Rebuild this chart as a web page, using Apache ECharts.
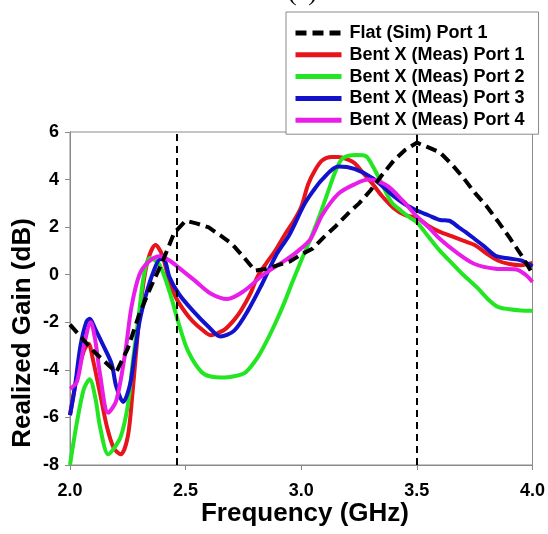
<!DOCTYPE html>
<html>
<head>
<meta charset="utf-8">
<script src="https://cdn.jsdelivr.net/npm/echarts@6/dist/echarts.min.js"></script>
<style>
html,body{margin:0;padding:0;background:#fff;}
#chart{width:548px;height:534px;}
</style>
</head>
<body>
<div id="chart"></div>
<script>
// ---- Data (frequency in GHz, realized gain in dB) ----
const seriesNames = ['Flat (Sim) Port 1','Bent X (Meas) Port 1','Bent X (Meas) Port 2','Bent X (Meas) Port 3','Bent X (Meas) Port 4'];
const xTicks = [2.0, 2.5, 3.0, 3.5, 4.0];
const yTicks = [-8, -6, -4, -2, 0, 2, 4, 6];
const markerFreqs = [2.46, 3.5];

const simFreq = [2.00,2.05,2.10,2.15,2.20,2.25,2.30,2.35,2.40,2.45,2.50,2.55,2.60,2.65,2.70,2.75,2.80,2.85,2.90,2.95,3.00,3.05,3.10,3.15,3.20,3.25,3.30,3.35,3.40,3.45,3.50,3.55,3.60,3.65,3.70,3.75,3.80,3.85,3.90,3.95,4.00];
const simGain = [-2.1,-2.65,-3.2,-3.65,-4.1,-3.1,-1.65,-0.5,0.55,1.75,2.27,2.15,1.99,1.65,1.3,0.75,0.17,0.25,0.4,0.55,0.85,1.1,1.6,2.05,2.55,3.0,3.55,4.2,4.8,5.25,5.55,5.35,5.14,4.65,4.09,3.45,2.9,2.25,1.57,0.85,0.05];

const p1Freq = [2.00,2.03,2.06,2.08,2.10,2.13,2.16,2.19,2.22,2.25,2.27,2.29,2.31,2.335,2.37,2.40,2.43,2.46,2.50,2.53,2.57,2.61,2.64,2.67,2.71,2.74,2.78,2.81,2.85,2.89,2.93,2.97,3.00,3.03,3.06,3.09,3.13,3.16,3.20,3.23,3.27,3.31,3.35,3.40,3.45,3.50,3.55,3.60,3.65,3.70,3.75,3.80,3.85,3.90,3.95,4.00];
const p1Gain = [-5.9,-4.3,-3.2,-2.9,-3.6,-5.0,-6.4,-7.3,-7.55,-6.8,-5.0,-2.8,-0.9,0.55,1.25,0.8,-0.3,-1.0,-1.6,-1.95,-2.3,-2.55,-2.45,-2.3,-1.9,-1.5,-0.8,-0.1,0.5,1.05,1.7,2.3,2.85,3.8,4.4,4.8,4.95,4.95,4.85,4.7,4.25,3.8,3.3,2.8,2.5,2.4,2.05,1.8,1.62,1.43,1.25,0.9,0.6,0.45,0.4,0.5];

const p2Freq = [2.00,2.03,2.06,2.085,2.11,2.13,2.165,2.19,2.22,2.25,2.27,2.30,2.32,2.345,2.385,2.43,2.47,2.51,2.57,2.62,2.67,2.72,2.76,2.81,2.85,2.89,2.93,2.96,3.00,3.04,3.08,3.12,3.15,3.18,3.24,3.28,3.31,3.35,3.39,3.43,3.47,3.50,3.55,3.60,3.65,3.70,3.76,3.81,3.85,3.90,3.95,4.00];
const p2Gain = [-8.0,-6.2,-4.8,-4.4,-5.2,-6.4,-7.55,-7.3,-6.8,-5.5,-3.8,-1.5,0.0,0.7,0.45,-0.7,-2.05,-3.2,-4.1,-4.3,-4.32,-4.25,-4.1,-3.5,-2.8,-2.0,-1.1,-0.35,0.6,1.5,2.5,3.6,4.4,4.9,5.03,4.98,4.55,3.8,3.05,2.7,2.4,2.2,1.6,1.0,0.5,0.0,-0.53,-1.05,-1.35,-1.45,-1.5,-1.52];

const p3Freq = [2.00,2.02,2.045,2.07,2.085,2.11,2.14,2.18,2.20,2.23,2.26,2.28,2.30,2.33,2.36,2.39,2.41,2.43,2.47,2.53,2.60,2.65,2.71,2.77,2.83,2.89,2.95,3.01,3.05,3.09,3.16,3.23,3.31,3.40,3.45,3.50,3.55,3.60,3.64,3.68,3.71,3.75,3.79,3.84,3.90,3.95,4.00];
const p3Gain = [-5.9,-4.8,-3.0,-2.0,-1.85,-2.3,-2.9,-3.75,-4.7,-5.35,-4.6,-3.3,-2.0,-0.8,0.1,0.65,0.6,-0.1,-0.8,-1.5,-2.2,-2.6,-2.35,-1.5,-0.4,0.8,1.7,2.9,3.5,4.0,4.55,4.45,4.05,3.3,2.95,2.7,2.5,2.3,2.27,2.0,1.8,1.5,1.2,0.8,0.68,0.6,0.35];

const p4Freq = [2.00,2.03,2.06,2.09,2.11,2.13,2.165,2.20,2.24,2.265,2.30,2.34,2.39,2.43,2.47,2.54,2.61,2.68,2.75,2.84,2.93,2.98,3.04,3.09,3.16,3.23,3.29,3.37,3.44,3.50,3.55,3.60,3.67,3.75,3.84,3.93,3.97,4.00];
const p4Gain = [-4.8,-4.5,-3.0,-2.0,-2.8,-4.2,-5.8,-5.3,-3.2,-1.4,0.0,0.55,0.78,0.6,0.3,-0.25,-0.8,-1.02,-0.7,0.03,0.6,0.95,1.5,2.5,3.4,3.8,4.0,3.75,3.1,2.45,2.0,1.5,0.95,0.45,0.25,0.22,0.0,-0.3];

const colors = ['#000000','#e8141c','#22e622','#1212cc','#e81ee8'];

function zip(a,b){return a.map((v,i)=>[v,b[i]]);}
const allFreq = [simFreq,p1Freq,p2Freq,p3Freq,p4Freq];
const allGain = [simGain,p1Gain,p2Gain,p3Gain,p4Gain];

const FONT = '"Liberation Sans", Arial, sans-serif';
const chart = echarts.init(document.getElementById('chart'));

const series = seriesNames.map((name,i)=>{
  const s = {
    name: name,
    type: 'line',
    data: zip(allFreq[i], allGain[i]),
    symbol: 'none',
    smooth: i === 0 ? false : 0.3,
    lineStyle: {color: colors[i], width: 4, type: i === 0 ? [11,6] : 'solid'},
    itemStyle: {color: colors[i]},
    z: i === 0 ? 3 : 2
  };
  if (i === 0) {
    s.markLine = {
      silent: true,
      symbol: 'none',
      label: {show: false},
      lineStyle: {color: '#000', width: 2, type: [7,5]},
      data: markerFreqs.map(f => ({xAxis: f}))
    };
  }
  return s;
});

chart.setOption({
  animation: false,
  backgroundColor: '#fff',
  grid: {left: 70, right: 11, top: 132, bottom: 69, show: true, borderColor: '#8a8a8a', borderWidth: 1, backgroundColor: 'transparent'},
  legend: {
    orient: 'vertical',
    left: 286, top: 12,
    padding: [11, 14, 4, 7],
    itemWidth: 46, itemHeight: 4, itemGap: 1.8,
    backgroundColor: '#fff',
    borderColor: '#8a8a8a', borderWidth: 1,
    itemStyle: {opacity: 0},
    lineStyle: {width: 5},
    textStyle: {fontFamily: FONT, fontWeight: 'bold', fontSize: 18, color: '#000', lineHeight: 20, padding: [0,0,0,3]},
    data: seriesNames,
    z: 20
  },
  xAxis: {
    type: 'value', min: 2, max: 4, interval: 0.5,
    axisLine: {show: true, onZero: false, lineStyle: {color: '#8a8a8a', width: 1}},
    axisTick: {show: true, inside: false, length: 5, lineStyle: {color: '#8a8a8a'}},
    splitLine: {show: false},
    axisLabel: {fontFamily: FONT, fontWeight: 'bold', fontSize: 18, color: '#000', margin: 17,
      formatter: v => xTicks.includes(v) ? v.toFixed(1) : ''}
  },
  yAxis: {
    type: 'value', min: -8, max: 6, interval: 2,
    axisLine: {show: true, onZero: false, lineStyle: {color: '#8a8a8a', width: 1}},
    axisTick: {show: true, inside: false, length: 5, lineStyle: {color: '#8a8a8a'}},
    splitLine: {show: false},
    axisLabel: {fontFamily: FONT, fontWeight: 'bold', fontSize: 18, color: '#000', margin: 11,
      formatter: v => yTicks.includes(v) ? String(v) : ''}
  },
  graphic: [
    {type: 'text', x: 288, y: -20, silent: true,
      style: {text: '(c)', font: '26px "Liberation Serif", serif', fill: '#000'}},
    {type: 'text', x: 305, y: 514, silent: true,
      style: {text: 'Frequency (GHz)', font: 'bold 26px "Liberation Sans", Arial, sans-serif', fill: '#000', align: 'center', verticalAlign: 'middle'}},
    {type: 'text', x: 23, y: 333, rotation: Math.PI/2, silent: true,
      style: {text: 'Realized Gain (dB)', font: 'bold 26px "Liberation Sans", Arial, sans-serif', fill: '#000', align: 'center', verticalAlign: 'middle'}}
  ],
  series: series
});
</script>
</body>
</html>
